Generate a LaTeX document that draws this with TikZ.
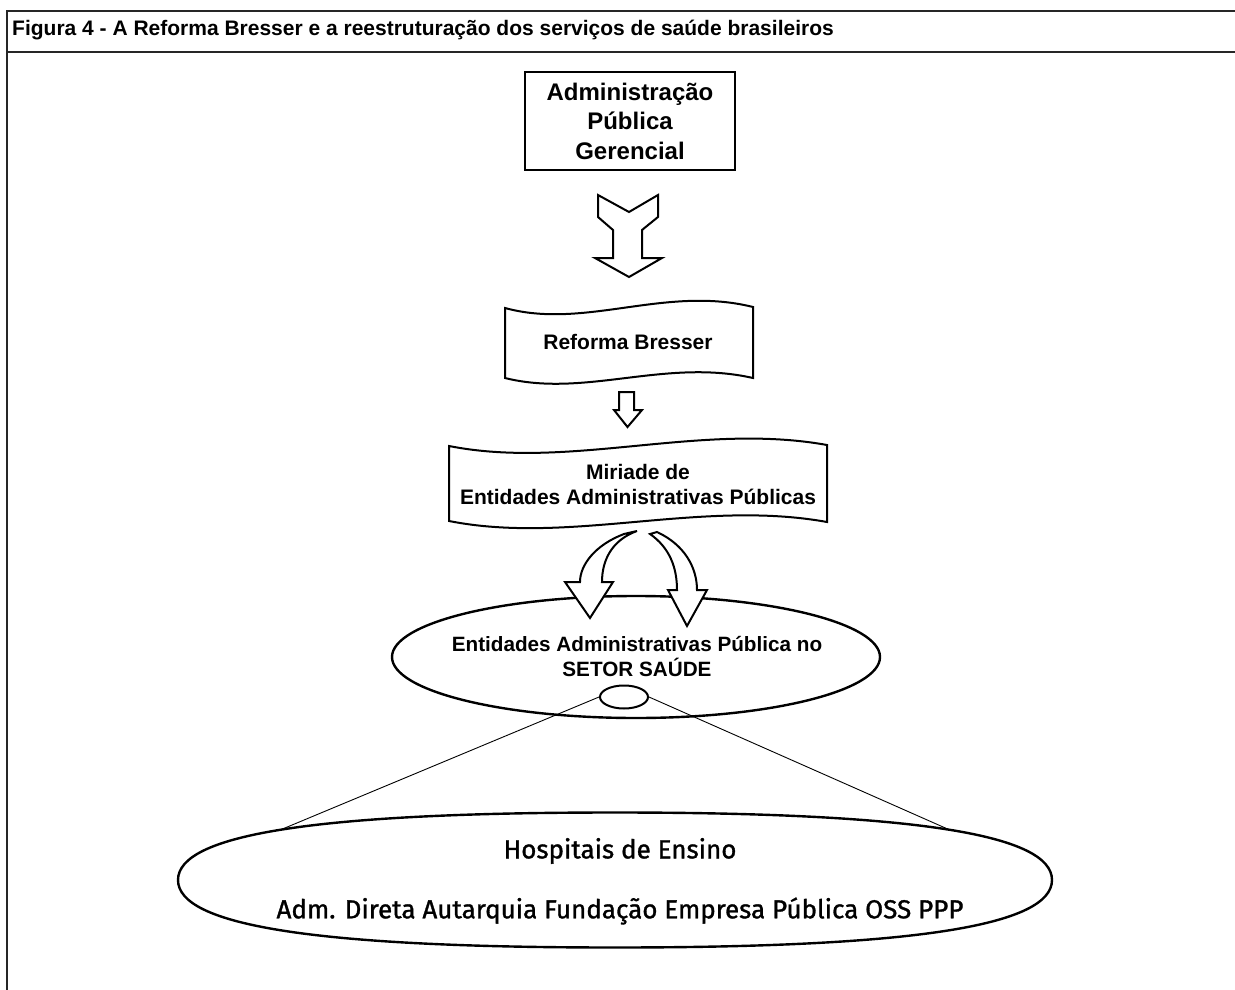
\documentclass[tikz,border=0pt]{standalone}
\usepackage{fontspec}
\setmainfont{Liberation Sans}
\newfontfamily\handfont[FakeBold=1.2]{Fira Sans}
\usetikzlibrary{shapes.geometric}
\begin{document}
\begin{tikzpicture}[x=1pt,y=-1pt,
  frameline/.style={line width=2pt,draw=black!85},
  boxline/.style={line width=2pt,draw=black},
  blockarrow/.style={line width=2pt,draw=black,fill=white,line join=miter},
  oval/.style={ellipse,draw=black,line width=2.4pt,inner sep=0pt},
  thinline/.style={line width=0.9pt,draw=black},
  lbl/.style={font=\bfseries\fontsize{21}{25}\selectfont,align=center,inner sep=0pt},
  hand/.style={font=\handfont\fontsize{26}{30}\selectfont,inner sep=0pt}]
\useasboundingbox (0,0) rectangle (1235,990);
\fill[white] (0,0) rectangle (1235,990);
\clip (0,0) rectangle (1235,990);

% outer frame and title bar
\draw[frameline] (7,11) rectangle (1260,1010);
\draw[frameline] (7,52) -- (1260,52);
\node[anchor=base west,inner sep=0pt,font=\bfseries\fontsize{21}{25}\selectfont] (title) at (12,35.5)
  {Figura 4 - A Reforma Bresser e a reestruturação dos serviços de saúde brasileiros};

% top box
\node[draw,boxline,minimum width=210pt,minimum height=98pt,inner sep=0pt,
      font=\bfseries\fontsize{24}{29.5}\selectfont,align=center] (apg) at (630,121)
  {Administração\\Pública\\Gerencial};

% Y-shaped arrow
\draw[blockarrow] (598,195) -- (629,212) -- (658,195) -- (658,217) -- (642,230)
  -- (642,258) -- (662,258) -- (629,277) -- (595,258) -- (613,258) -- (613,230)
  -- (598,217) -- cycle;

% Reforma Bresser banner
\draw[boxline] (505,308) .. controls (585,330) and (665,285) .. (753,307)
  -- (753,378) .. controls (665,358) and (585,398) .. (505,378) -- cycle;
\node[lbl] (rb) at (628,342) {Reforma Bresser};

% small down arrow
\draw[blockarrow] (619,392) -- (634,392) -- (634,410) -- (642,410) -- (627.5,427)
  -- (614,410) -- (619,410) -- cycle;

% Miriade banner
\draw[boxline] (449,446) .. controls (570,470) and (700,422) .. (827,445)
  -- (827,522) .. controls (700,499) and (570,545) .. (449,521) -- cycle;
\node[lbl] (mir) at (638,484) {Miriade de\\Entidades Administrativas Públicas};

% health-sector ellipse
\node[oval,minimum width=488pt,minimum height=122pt] (es) at (636,657) {};
\node[lbl,font=\bfseries\fontsize{20.7}{25}\selectfont] (estxt) at (637,657)
  {Entidades Administrativas Pública no\\SETOR SAÚDE};
\node[oval,line width=2pt,minimum width=48pt,minimum height=23pt] (sel) at (624,697) {};

% curved arrows
\draw[blockarrow] (624,534) .. controls (595,545) and (580,565) .. (580,582)
  -- (565,582) -- (590,618) -- (613,582) -- (602,582)
  .. controls (602,560) and (612,540) .. (637,531) -- cycle;
\draw[blockarrow] (650,534) .. controls (670,548) and (677,568) .. (677,590)
  -- (668,590) -- (687,626) -- (707,590) -- (697,590)
  .. controls (697,568) and (685,545) .. (657,532) -- cycle;

% teaching hospitals oval (slightly squared ellipse)
\coordinate (hosp) at (615,880);
\draw[line width=2.4pt] (178,880)
  .. controls (178,834.1) and (317.8,812.5) .. (615,812.5) coordinate[pos=0.49] (hl)
  .. controls (912.2,812.5) and (1052,834.1) .. (1052,880) coordinate[pos=0.51] (hr)
  .. controls (1052,925.9) and (912.2,947.5) .. (615,947.5)
  .. controls (317.8,947.5) and (178,925.9) .. (178,880) -- cycle;
\node[hand] (h1) at (620,851) {Hospitais de Ensino};
\node[hand] (h2) at (620,911) {Adm. Direta Autarquia Fundação Empresa Pública OSS PPP};

% zoom lines
\draw[thinline] (sel.west) -- (hl);
\draw[thinline] (sel.east) -- (hr);
\end{tikzpicture}
\end{document}
